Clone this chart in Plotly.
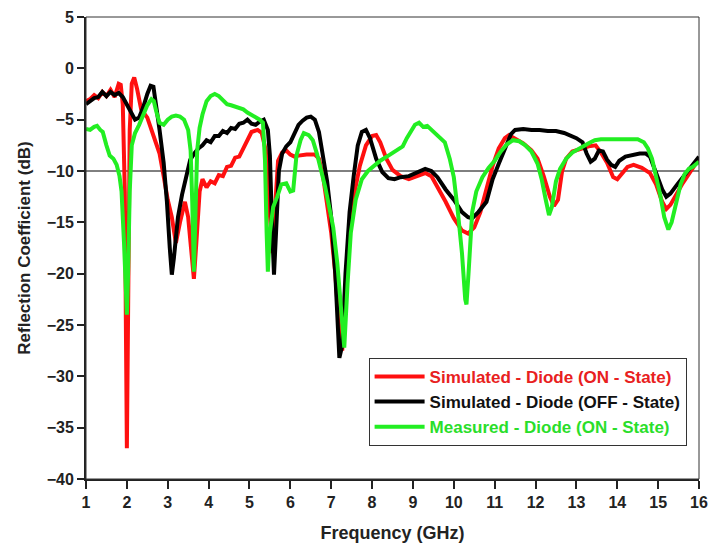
import plotly.graph_objects as go

red_x = [1.0,1.1,1.2,1.3,1.4,1.5,1.6,1.7,1.8,1.85,1.9,1.95,2.0,2.03,2.07,2.12,2.18,2.25,2.35,2.5,2.6,2.7,2.8,2.9,3.0,3.1,3.2,3.3,3.42,3.5,3.6,3.64,3.7,3.78,3.85,3.95,4.05,4.15,4.25,4.35,4.45,4.55,4.65,4.75,4.85,4.95,5.05,5.2,5.3,5.4,5.5,5.56,5.62,5.7,5.8,5.9,6.0,6.1,6.2,6.4,6.6,6.7,6.8,6.9,7.0,7.1,7.2,7.27,7.35,7.45,7.55,7.7,7.85,8.0,8.1,8.2,8.35,8.5,8.7,8.9,9.1,9.3,9.45,9.6,9.8,10.0,10.2,10.35,10.5,10.65,10.8,10.95,11.1,11.25,11.35,11.5,11.7,11.9,12.05,12.2,12.35,12.45,12.55,12.65,12.75,12.9,13.1,13.3,13.47,13.6,13.75,13.9,14.0,14.1,14.25,14.4,14.6,14.8,14.95,15.1,15.2,15.3,15.45,15.6,15.75,15.9,16.0]
red_y = [-3.2,-3.0,-2.6,-2.9,-2.3,-2.7,-2.1,-2.8,-1.5,-1.6,-3.5,-12,-37,-20,-6,-1.5,-0.9,-2,-4,-4.8,-6.0,-7.0,-8.3,-10.5,-12.8,-14.5,-17,-15,-13,-14.5,-19,-20.5,-17,-12,-10.8,-11.6,-11.0,-11.2,-10.4,-10.5,-9.6,-9.5,-8.7,-8.6,-7.8,-7.0,-6.2,-6.0,-6.3,-8,-14,-18,-14,-9,-8.2,-8.0,-8.4,-8.6,-8.5,-8.4,-8.4,-8.8,-10.5,-13,-16,-20,-25.5,-27.5,-23,-16,-12.5,-9.5,-7.5,-6.6,-6.5,-7.2,-8.8,-9.9,-10.5,-10.8,-10.5,-10.2,-10.5,-11.5,-13,-14.6,-15.8,-16.1,-15.5,-14,-11.8,-9.5,-7.8,-6.8,-6.5,-6.8,-7.3,-8.0,-8.8,-10.5,-12.5,-13.4,-12.8,-10,-8.8,-8.1,-7.8,-7.6,-7.5,-8.2,-9.2,-10.6,-10.8,-10.3,-9.6,-9.4,-9.7,-10.2,-11.3,-13,-13.7,-13.3,-12.2,-11.2,-10.3,-9.4,-8.8]

black_x = [1.0,1.1,1.2,1.3,1.4,1.5,1.6,1.7,1.8,1.9,2.0,2.1,2.2,2.3,2.4,2.5,2.58,2.65,2.72,2.8,2.9,2.98,3.05,3.1,3.15,3.25,3.35,3.45,3.55,3.65,3.75,3.85,3.95,4.05,4.15,4.25,4.35,4.45,4.55,4.65,4.75,4.85,4.95,5.05,5.15,5.25,5.35,5.45,5.5,5.55,5.6,5.65,5.72,5.8,5.9,6.0,6.1,6.2,6.3,6.4,6.5,6.6,6.7,6.8,6.9,7.0,7.1,7.2,7.27,7.35,7.45,7.55,7.65,7.75,7.85,7.95,8.1,8.25,8.4,8.55,8.7,8.9,9.1,9.3,9.45,9.6,9.8,10.0,10.2,10.35,10.45,10.6,10.8,10.95,11.1,11.25,11.4,11.5,11.7,11.9,12.1,12.3,12.5,12.7,12.85,13.0,13.15,13.25,13.35,13.45,13.55,13.65,13.75,13.85,13.95,14.05,14.2,14.35,14.55,14.7,14.8,14.95,15.1,15.2,15.3,15.45,15.6,15.75,15.9,16.0]
black_y = [-3.5,-3.2,-2.9,-2.8,-2.3,-2.7,-2.3,-2.6,-2.4,-2.8,-3.6,-4.3,-5.0,-4.8,-3.8,-2.5,-1.7,-1.8,-3.5,-6,-9.2,-13,-17.5,-20.1,-18.5,-14.5,-12.3,-10.5,-8.9,-8.3,-7.8,-7.5,-7.0,-7.2,-6.6,-6.6,-6.1,-6.3,-5.8,-5.9,-5.4,-5.3,-5.0,-5.4,-5.5,-5.2,-5.0,-6.0,-8.5,-15,-20.1,-16,-10,-8.3,-7.6,-7.2,-6.3,-5.5,-5.1,-4.8,-4.7,-5.0,-6.2,-8.5,-11,-14.5,-20,-28.2,-27,-20,-14,-10.5,-7.5,-6.2,-6.0,-6.8,-8.8,-10.1,-10.7,-10.8,-10.6,-10.5,-10.1,-9.8,-10.0,-10.6,-11.8,-12.8,-14,-14.5,-14.6,-14,-13,-10.8,-9.3,-7.8,-6.4,-6.0,-5.9,-6.0,-6.0,-6.1,-6.1,-6.3,-6.5,-6.8,-7.2,-8.3,-9.1,-8.8,-8.0,-8.1,-8.9,-9.4,-9.6,-9.0,-8.6,-8.5,-8.3,-8.3,-8.6,-10.2,-11.8,-12.5,-12.2,-11.4,-10.6,-9.8,-9.1,-8.6]

green_x = [1.0,1.1,1.2,1.27,1.35,1.41,1.5,1.58,1.67,1.75,1.82,1.87,1.93,1.98,2.0,2.03,2.07,2.12,2.2,2.3,2.4,2.5,2.6,2.66,2.72,2.8,2.9,3.0,3.1,3.2,3.3,3.4,3.5,3.56,3.6,3.64,3.68,3.72,3.78,3.85,3.95,4.05,4.15,4.25,4.35,4.45,4.55,4.65,4.75,4.85,4.95,5.05,5.15,5.25,5.33,5.38,5.42,5.45,5.5,5.58,5.68,5.78,5.9,6.0,6.07,6.15,6.25,6.33,6.45,6.55,6.65,6.75,6.85,6.95,7.05,7.15,7.25,7.32,7.4,7.48,7.6,7.75,7.9,8.05,8.2,8.4,8.6,8.75,8.85,8.95,9.05,9.15,9.25,9.35,9.45,9.55,9.65,9.78,9.9,10.0,10.1,10.2,10.28,10.31,10.36,10.45,10.55,10.7,10.85,11.0,11.15,11.3,11.45,11.6,11.75,11.9,12.05,12.15,12.25,12.33,12.4,12.5,12.6,12.75,12.9,13.1,13.3,13.45,13.6,13.9,14.2,14.5,14.65,14.75,14.85,14.95,15.05,15.15,15.25,15.33,15.45,15.55,15.65,15.75,15.85,16.0]
green_y = [-5.9,-6.0,-5.7,-5.6,-6.0,-6.2,-7.5,-8.5,-8.8,-9.4,-10.5,-12,-17,-23,-24,-20,-12,-7.5,-6.3,-5.5,-4.5,-3.6,-3.0,-3.2,-4.2,-5.3,-5.5,-5.0,-4.7,-4.6,-4.7,-5.0,-6.0,-8,-13,-19.8,-14,-8,-5.8,-4.5,-3.2,-2.7,-2.5,-2.7,-3.1,-3.5,-3.6,-3.7,-3.8,-4.0,-4.3,-4.5,-4.7,-5.0,-5.3,-9,-16,-19.8,-16,-13.5,-12.5,-11.3,-11.2,-12,-11.9,-8.5,-7.0,-6.3,-6.5,-7.0,-8.3,-9.8,-11.5,-13.5,-15.5,-19,-24,-27.2,-21,-16,-12.8,-10.8,-10.0,-9.5,-9.0,-8.5,-8.0,-7.6,-6.8,-6.1,-5.5,-5.3,-5.7,-5.6,-6.0,-6.3,-6.8,-7.2,-8.8,-10.6,-14,-18,-22.5,-23,-20,-14,-12,-10.6,-9.7,-9.0,-8.1,-7.4,-7.0,-7.1,-7.5,-8.1,-9.3,-10.8,-12.8,-14.3,-13.5,-11,-9.8,-8.8,-8.2,-7.7,-7.3,-7.0,-6.9,-6.9,-6.9,-6.9,-7.2,-7.8,-8.8,-10.5,-12.3,-14.5,-15.7,-15,-12.8,-11.3,-10.3,-9.8,-9.6,-9.1]

x_ticks = list(range(1, 17))
y_ticks = [5, 0, -5, -10, -15, -20, -25, -30, -35, -40]

RED = "#ff1010"
BLACK = "#000000"
GREEN = "#22ee22"
FONT = "Liberation Sans, Arial, sans-serif"

fig = go.Figure()
fig.add_trace(go.Scatter(x=red_x, y=red_y, mode="lines", line=dict(color=RED, width=4),
                         name="<span style='color:#e82020'>Simulated - Diode (ON - State)</span>"))
fig.add_trace(go.Scatter(x=black_x, y=black_y, mode="lines", line=dict(color=BLACK, width=4),
                         name="<span style='color:#111111'>Simulated - Diode (OFF - State)</span>"))
fig.add_trace(go.Scatter(x=green_x, y=green_y, mode="lines", line=dict(color=GREEN, width=4),
                         name="<span style='color:#2ade2a'>Measured - Diode (ON - State)</span>"))

fig.add_shape(type="line", xref="x", yref="y", x0=1, x1=16, y0=-10, y1=-10,
              line=dict(color="black", width=1), layer="below")
fig.add_shape(type="rect", xref="paper", yref="paper", x0=0, x1=1, y0=0, y1=1,
              line=dict(color="#333333", width=1))

fig.update_layout(
    width=717, height=550,
    margin=dict(l=86, r=9, t=14, b=71),
    paper_bgcolor="white", plot_bgcolor="white",
    font=dict(family=FONT, size=16, color="#222222", weight="bold"),
    showlegend=True,
    legend=dict(x=0.461, y=0.262, xanchor="left", yanchor="top",
                bordercolor="#333333", borderwidth=1, bgcolor="white",
                font=dict(family=FONT, size=17, weight="bold"),
                tracegroupgap=0, itemwidth=50),
)
fig.update_xaxes(range=[1, 16], tickvals=x_ticks, showgrid=False, zeroline=False,
                 showline=True, linecolor="#222222", linewidth=2,
                 ticks="outside", ticklen=8, tickwidth=2, tickcolor="#222222",
                 tickfont=dict(family=FONT, size=16, weight="bold"),
                 title=dict(text="Frequency (GHz)", standoff=16,
                            font=dict(family=FONT, size=18, weight="bold")))
fig.update_yaxes(range=[-40, 5], tickvals=y_ticks, showgrid=False, zeroline=False,
                 showline=True, linecolor="#222222", linewidth=2,
                 ticks="outside", ticklen=7, tickwidth=2, tickcolor="#222222",
                 tickfont=dict(family=FONT, size=16, weight="bold"),
                 title=dict(text="Reflection Coefficient (dB)", standoff=12,
                            font=dict(family=FONT, size=17, weight="bold")))

fig.write_html("out.html")
